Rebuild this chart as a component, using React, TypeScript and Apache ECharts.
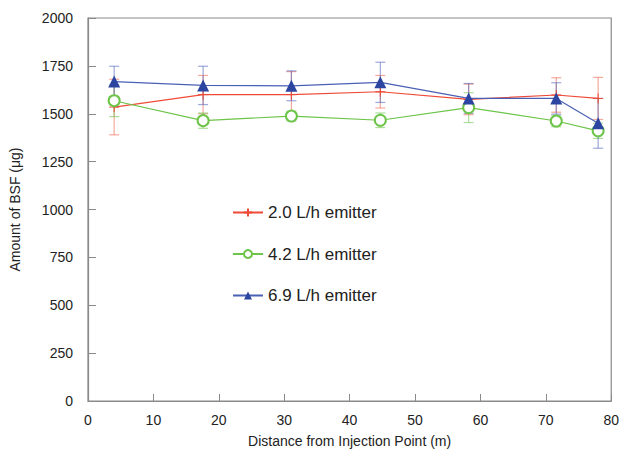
import React, { useEffect, useRef } from "react";
import * as echarts from "echarts";

const xValues = [4, 17.6, 31.1, 44.7, 58.2, 71.6, 78];
const names = ["2.0 L/h emitter", "4.2 L/h emitter", "6.9 L/h emitter"];
const red = [1535, 1600, 1600, 1615, 1575, 1598, 1580];
const redErr = [145, 100, 120, 85, 80, 90, 110];
const green = [1568, 1464, 1488, 1466, 1532, 1462, 1411];
const greenErr = [83, 40, 25, 38, 78, 30, 40];
const blue = [1668, 1648, 1646, 1664, 1580, 1580, 1450];
const blueErr = [80, 100, 78, 105, 78, 82, 130];
const xTicks = [0, 10, 20, 30, 40, 50, 60, 70, 80];
const yTicks = [0, 250, 500, 750, 1000, 1250, 1500, 1750, 2000];

const FONT = "Liberation Sans, Arial, sans-serif";

function errSeries(vals: number[], errs: number[], color: string) {
  return {
    type: "custom",
    silent: true,
    z: 1,
    data: xValues.map((x, i) => [x, vals[i] - errs[i], vals[i] + errs[i]]),
    renderItem: (params: any, api: any) => {
      const lo = api.coord([api.value(0), api.value(1)]);
      const hi = api.coord([api.value(0), api.value(2)]);
      const w = 5;
      const style = { stroke: color, lineWidth: 1.2 };
      return {
        type: "group",
        children: [
          { type: "line", shape: { x1: lo[0], y1: lo[1], x2: hi[0], y2: hi[1] }, style },
          { type: "line", shape: { x1: lo[0] - w, y1: lo[1], x2: lo[0] + w, y2: lo[1] }, style },
          { type: "line", shape: { x1: hi[0] - w, y1: hi[1], x2: hi[0] + w, y2: hi[1] }, style },
        ],
      };
    },
  };
}

export default function App() {
  const ref = useRef<HTMLDivElement>(null);
  useEffect(() => {
    const chart = echarts.init(ref.current!, null, { renderer: "svg" });
    chart.setOption({
      animation: false,
      backgroundColor: "#ffffff",
      textStyle: { fontFamily: FONT },
      grid: {
        left: 88,
        right: 9,
        top: 18,
        bottom: 53,
        show: true,
        borderColor: "#8a8a8a",
        borderWidth: 1.2,
        backgroundColor: "transparent",
      },
      legend: {
        orient: "vertical",
        left: 232,
        top: 204,
        padding: 0,
        itemWidth: 30,
        itemHeight: 10,
        itemGap: 24.5,
        data: names,
        textStyle: { fontFamily: FONT, fontSize: 17, color: "#222" },
      },
      xAxis: {
        type: "value",
        min: 0,
        max: 80,
        interval: 10,
        name: "Distance from Injection Point (m)",
        nameLocation: "middle",
        nameGap: 33,
        nameTextStyle: { fontFamily: FONT, fontSize: 14, color: "#222" },
        axisLine: { show: true, lineStyle: { color: "#8a8a8a", width: 1.2 } },
        axisTick: { show: true, inside: true, length: 7, lineStyle: { color: "#8a8a8a" } },
        axisLabel: {
          fontFamily: FONT,
          fontSize: 14,
          color: "#222",
          margin: 12,
          formatter: (v: number) => (xTicks.includes(v) ? String(v) : ""),
        },
        splitLine: { show: false },
      },
      yAxis: {
        type: "value",
        min: 0,
        max: 2000,
        interval: 250,
        name: "Amount of BSF (μg)",
        nameLocation: "middle",
        nameGap: 66,
        nameTextStyle: { fontFamily: FONT, fontSize: 14, color: "#222" },
        axisLine: { show: true, lineStyle: { color: "#8a8a8a", width: 1.2 } },
        axisTick: { show: true, inside: true, length: 8, lineStyle: { color: "#8a8a8a" } },
        axisLabel: {
          fontFamily: FONT,
          fontSize: 14,
          color: "#222",
          margin: 15,
          formatter: (v: number) => (yTicks.includes(v) ? String(v) : ""),
        },
        splitLine: { show: false },
      },
      series: [
        errSeries(red, redErr, "rgba(240,110,90,0.6)"),
        errSeries(green, greenErr, "rgba(120,200,90,0.6)"),
        errSeries(blue, blueErr, "rgba(90,110,190,0.6)"),
        {
          name: names[0],
          type: "line",
          z: 3,
          data: xValues.map((x, i) => [x, red[i]]),
          symbol: "path://M5,0 L5,10 M0,5 L10,5",
          symbolSize: 10,
          lineStyle: { color: "#ee4a35", width: 1.2 },
          itemStyle: { color: "#ee4a35", borderColor: "#ee4a35", borderWidth: 1 },
        },
        {
          name: names[1],
          type: "line",
          z: 3,
          data: xValues.map((x, i) => [x, green[i]]),
          symbol: "emptyCircle",
          symbolSize: 11,
          lineStyle: { color: "#6cc448", width: 1.2 },
          itemStyle: { color: "#6cc448", borderColor: "#6cc448", borderWidth: 1 },
        },
        {
          name: names[2],
          type: "line",
          z: 4,
          data: xValues.map((x, i) => [x, blue[i]]),
          symbol: "triangle",
          symbolSize: 12,
          lineStyle: { color: "#4a60b4", width: 1.2 },
          itemStyle: { color: "#2c45a0" },
        },
      ],
    });
    return () => chart.dispose();
  }, []);
  return <div ref={ref} style={{ width: 622, height: 454, position: "absolute", left: 0, top: 0 }} />;
}
